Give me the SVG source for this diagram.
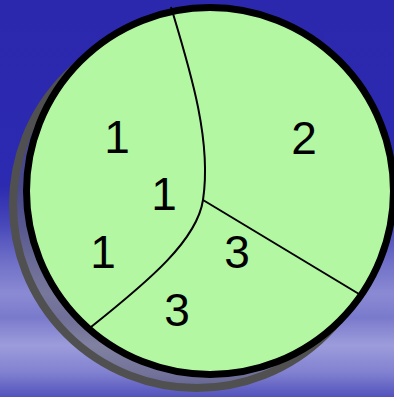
<svg xmlns="http://www.w3.org/2000/svg" width="394" height="397" viewBox="0 0 394 397">
  <defs>
    <linearGradient id="bg" x1="0" y1="0" x2="0" y2="1">
      <stop offset="0" stop-color="#2b28ae"/>
      <stop offset="0.47" stop-color="#2c2ab0"/>
      <stop offset="0.57" stop-color="#4a4aba"/>
      <stop offset="0.66" stop-color="#7070c8"/>
      <stop offset="0.74" stop-color="#8a8ad4"/>
      <stop offset="0.80" stop-color="#7a7acc"/>
      <stop offset="0.87" stop-color="#9c9cdc"/>
      <stop offset="0.94" stop-color="#8080d0"/>
      <stop offset="1" stop-color="#5252bc"/>
    </linearGradient>
    <style>
      .lbl { font-family: "Liberation Sans", Arial, sans-serif; font-size: 46px; fill: #000; text-anchor: middle; }
      .div { fill: none; stroke: #000; stroke-width: 2; }
    </style>
  </defs>
  <rect id="background" x="0" y="0" width="394" height="397" fill="url(#bg)"/>
  <g id="shadow">
    <circle cx="196.5" cy="204.5" r="183.5" fill="#666" fill-opacity="0.5" stroke="#505050" stroke-width="8"/>
  </g>
  <g id="disc">
    <circle cx="210" cy="191" r="183.5" fill="#b3f7a3" stroke="#000" stroke-width="7"/>
  </g>
  <g id="connectors">
    <path class="div" d="M171 7 C190 70 212 140 203 200 C197 240 150 280 91 327"/>
    <path class="div" d="M203 200 L359 294"/>
  </g>
  <g id="region-1">
    <text class="lbl" x="117" y="153">1</text>
    <text class="lbl" x="164" y="210">1</text>
    <text class="lbl" x="103" y="268">1</text>
  </g>
  <g id="region-2">
    <text class="lbl" x="304" y="154">2</text>
  </g>
  <g id="region-3">
    <text class="lbl" x="237" y="268">3</text>
    <text class="lbl" x="177" y="326">3</text>
  </g>
</svg>
